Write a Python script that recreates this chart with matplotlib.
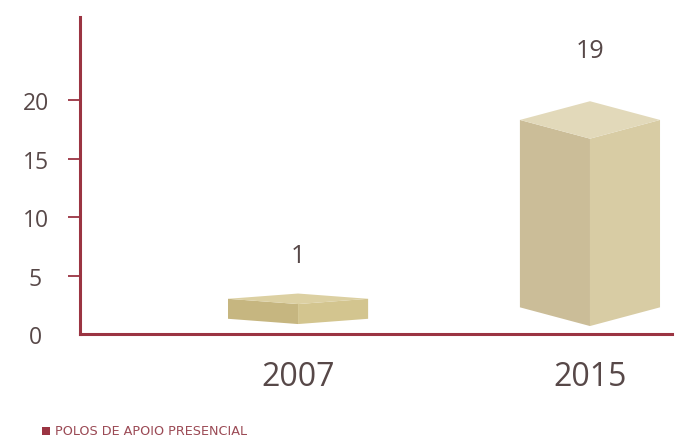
import matplotlib
matplotlib.use("Agg")
import matplotlib.pyplot as plt
from matplotlib.patches import Polygon

plt.rcParams['font.family'] = ['Open Sans', 'DejaVu Sans']

# Data
categories = ["2007", "2015"]
values = [1, 19]
# box geometry (data units): front bottom, front top, half-depth
box_bottom = [0.85, 0.68]
box_top = [2.56, 16.7]
box_depth = [0.45, 1.6]
yticks = [0, 5, 10, 15, 20]
legend_label = "POLOS DE APOIO PRESENCIAL"

axis_color = "#9b3442"
text_color = "#574848"
face_colors = [
    ("#c6b680", "#d3c58f", "#dcd0a2"),
    ("#cbbd98", "#d8cca4", "#e2d9ba"),
]
label_gap = [3.25, 4.3]

fig = plt.figure(figsize=(6.76, 4.39), dpi=100)
ax = fig.add_axes([80/676, 1-335/439, 592/676, 317/439])

hw = 0.24
for i, (cat, v) in enumerate(zip(categories, values)):
    c = i
    b, t, d = box_bottom[i], box_top[i], box_depth[i]
    lc, rc, tc = face_colors[i]
    left = Polygon([(c - hw, b + d), (c, b), (c, t), (c - hw, t + d)], closed=True,
                   facecolor=lc, edgecolor='none')
    right = Polygon([(c, b), (c + hw, b + d), (c + hw, t + d), (c, t)], closed=True,
                    facecolor=rc, edgecolor='none')
    top = Polygon([(c - hw, t + d), (c, t), (c + hw, t + d), (c, t + 2 * d)], closed=True,
                  facecolor=tc, edgecolor='none')
    for p in (left, right, top):
        ax.add_patch(p)
    ax.text(c, t + 2 * d + label_gap[i], str(v),
            ha='center', va='center', fontsize=18, color=text_color)

ax.set_xlim(-0.747, 1.281)
ax.set_ylim(0, 27.1)
ax.set_xticks(range(len(categories)))
ax.set_xticklabels(categories, fontsize=23, color=text_color)
ax.set_yticks(yticks)
ax.set_yticklabels([str(y) for y in yticks], fontsize=16.5, color=text_color)
for lab in ax.get_yticklabels():
    lab.set_ha('center')

for s in ('top', 'right'):
    ax.spines[s].set_visible(False)
for s in ('left', 'bottom'):
    ax.spines[s].set_color(axis_color)
    ax.spines[s].set_linewidth(2.2)

ax.tick_params(axis='y', length=9, width=1.3, color=axis_color, pad=23)
ax.tick_params(axis='x', length=0, pad=19)
ax.yaxis.get_major_ticks()[0].tick1line.set_visible(False)

# legend
fig.patches.append(plt.Rectangle((42/676, 1-436/439), 8/676, 8/439,
                                 transform=fig.transFigure, facecolor=axis_color,
                                 edgecolor='none'))
fig.text(55/676, 1-432/439, legend_label, fontsize=9.2, color="#9b4a55",
         va='center', ha='left', family=['DejaVu Sans'])

fig.savefig("out.png", dpi=100, facecolor='white')
